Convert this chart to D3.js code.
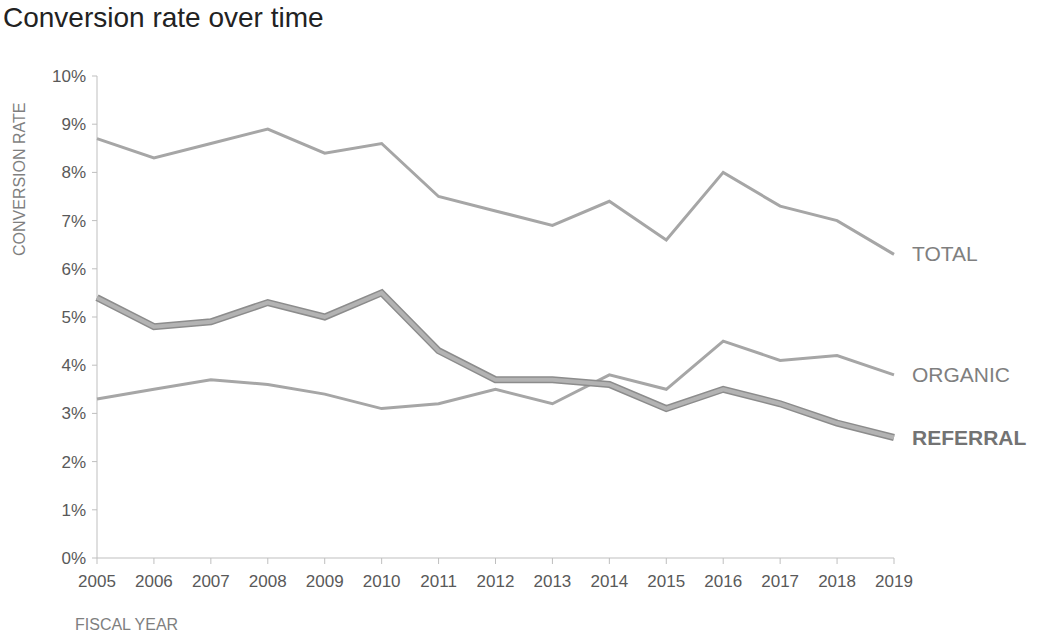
<!DOCTYPE html>
<html><head><meta charset="utf-8">
<script src="https://cdn.jsdelivr.net/npm/d3@7"></script>
<style>body{margin:0;background:#fff;font-family:Arial,"Liberation Sans",sans-serif}</style>
</head><body><svg id="c" width="1040" height="632"></svg>
<script>
const years = [2005,2006,2007,2008,2009,2010,2011,2012,2013,2014,2015,2016,2017,2018,2019];
const total = [8.7,8.3,8.6,8.9,8.4,8.6,7.5,7.2,6.9,7.4,6.6,8.0,7.3,7.0,6.3];
const organic = [3.3,3.5,3.7,3.6,3.4,3.1,3.2,3.5,3.2,3.8,3.5,4.5,4.1,4.2,3.8];
const referral = [5.4,4.8,4.9,5.3,5.0,5.5,4.3,3.7,3.7,3.6,3.1,3.5,3.2,2.8,2.5];
const yTicks = [0,1,2,3,4,5,6,7,8,9,10];

const svg = d3.select("#c");
const x = d3.scaleLinear().domain([2005,2019]).range([97,894]);
const y = d3.scaleLinear().domain([0,10]).range([558,76]);

svg.append("text").attr("x",3).attr("y",27).attr("font-size",28).attr("fill","#222").text("Conversion rate over time");

// axes
svg.append("line").attr("x1",97).attr("x2",97).attr("y1",76).attr("y2",558).attr("stroke","#bfbfbf");
svg.append("line").attr("x1",97).attr("x2",894).attr("y1",558).attr("y2",558).attr("stroke","#bfbfbf");
svg.selectAll(".yt").data(yTicks).join("line").attr("x1",92).attr("x2",97)
  .attr("y1",d=>y(d)).attr("y2",d=>y(d)).attr("stroke","#bfbfbf");
svg.selectAll(".yl").data(yTicks).join("text").attr("x",86).attr("y",d=>y(d)+6)
  .attr("text-anchor","end").attr("font-size",17).attr("fill","#595959").text(d=>d+"%");
svg.selectAll(".xt").data(years).join("line").attr("x1",d=>x(d)).attr("x2",d=>x(d))
  .attr("y1",558).attr("y2",564).attr("stroke","#bfbfbf");
svg.selectAll(".xl").data(years).join("text").attr("x",d=>x(d)).attr("y",587)
  .attr("text-anchor","middle").attr("font-size",17).attr("fill","#595959").text(d=>d);

svg.append("text").attr("transform","translate(25,256) rotate(-90)").attr("font-size",16)
  .attr("fill","#7f7f7f").text("CONVERSION RATE");
svg.append("text").attr("x",75).attr("y",630).attr("font-size",16).attr("fill","#7f7f7f").text("FISCAL YEAR");

const line = d3.line().x((d,i)=>x(years[i])).y(d=>y(d));
svg.append("path").datum(total).attr("d",line).attr("fill","none").attr("stroke","#a6a6a6").attr("stroke-width",3);
svg.append("path").datum(organic).attr("d",line).attr("fill","none").attr("stroke","#a6a6a6").attr("stroke-width",3);
svg.append("path").datum(referral).attr("d",line).attr("fill","none").attr("stroke","#8c8c8c").attr("stroke-width",7);
svg.append("path").datum(referral).attr("d",line).attr("fill","none").attr("stroke","#b3b3b3").attr("stroke-width",4);

const lab = (t,v,bold,col)=>svg.append("text").attr("x",912).attr("y",y(v)+7).attr("font-size",21)
  .attr("font-weight",bold?"bold":"normal").attr("fill",col).text(t);
lab("TOTAL",total[14],false,"#7f7f7f");
lab("ORGANIC",organic[14],false,"#7f7f7f");
lab("REFERRAL",referral[14],true,"#737373");
</script></body></html>
